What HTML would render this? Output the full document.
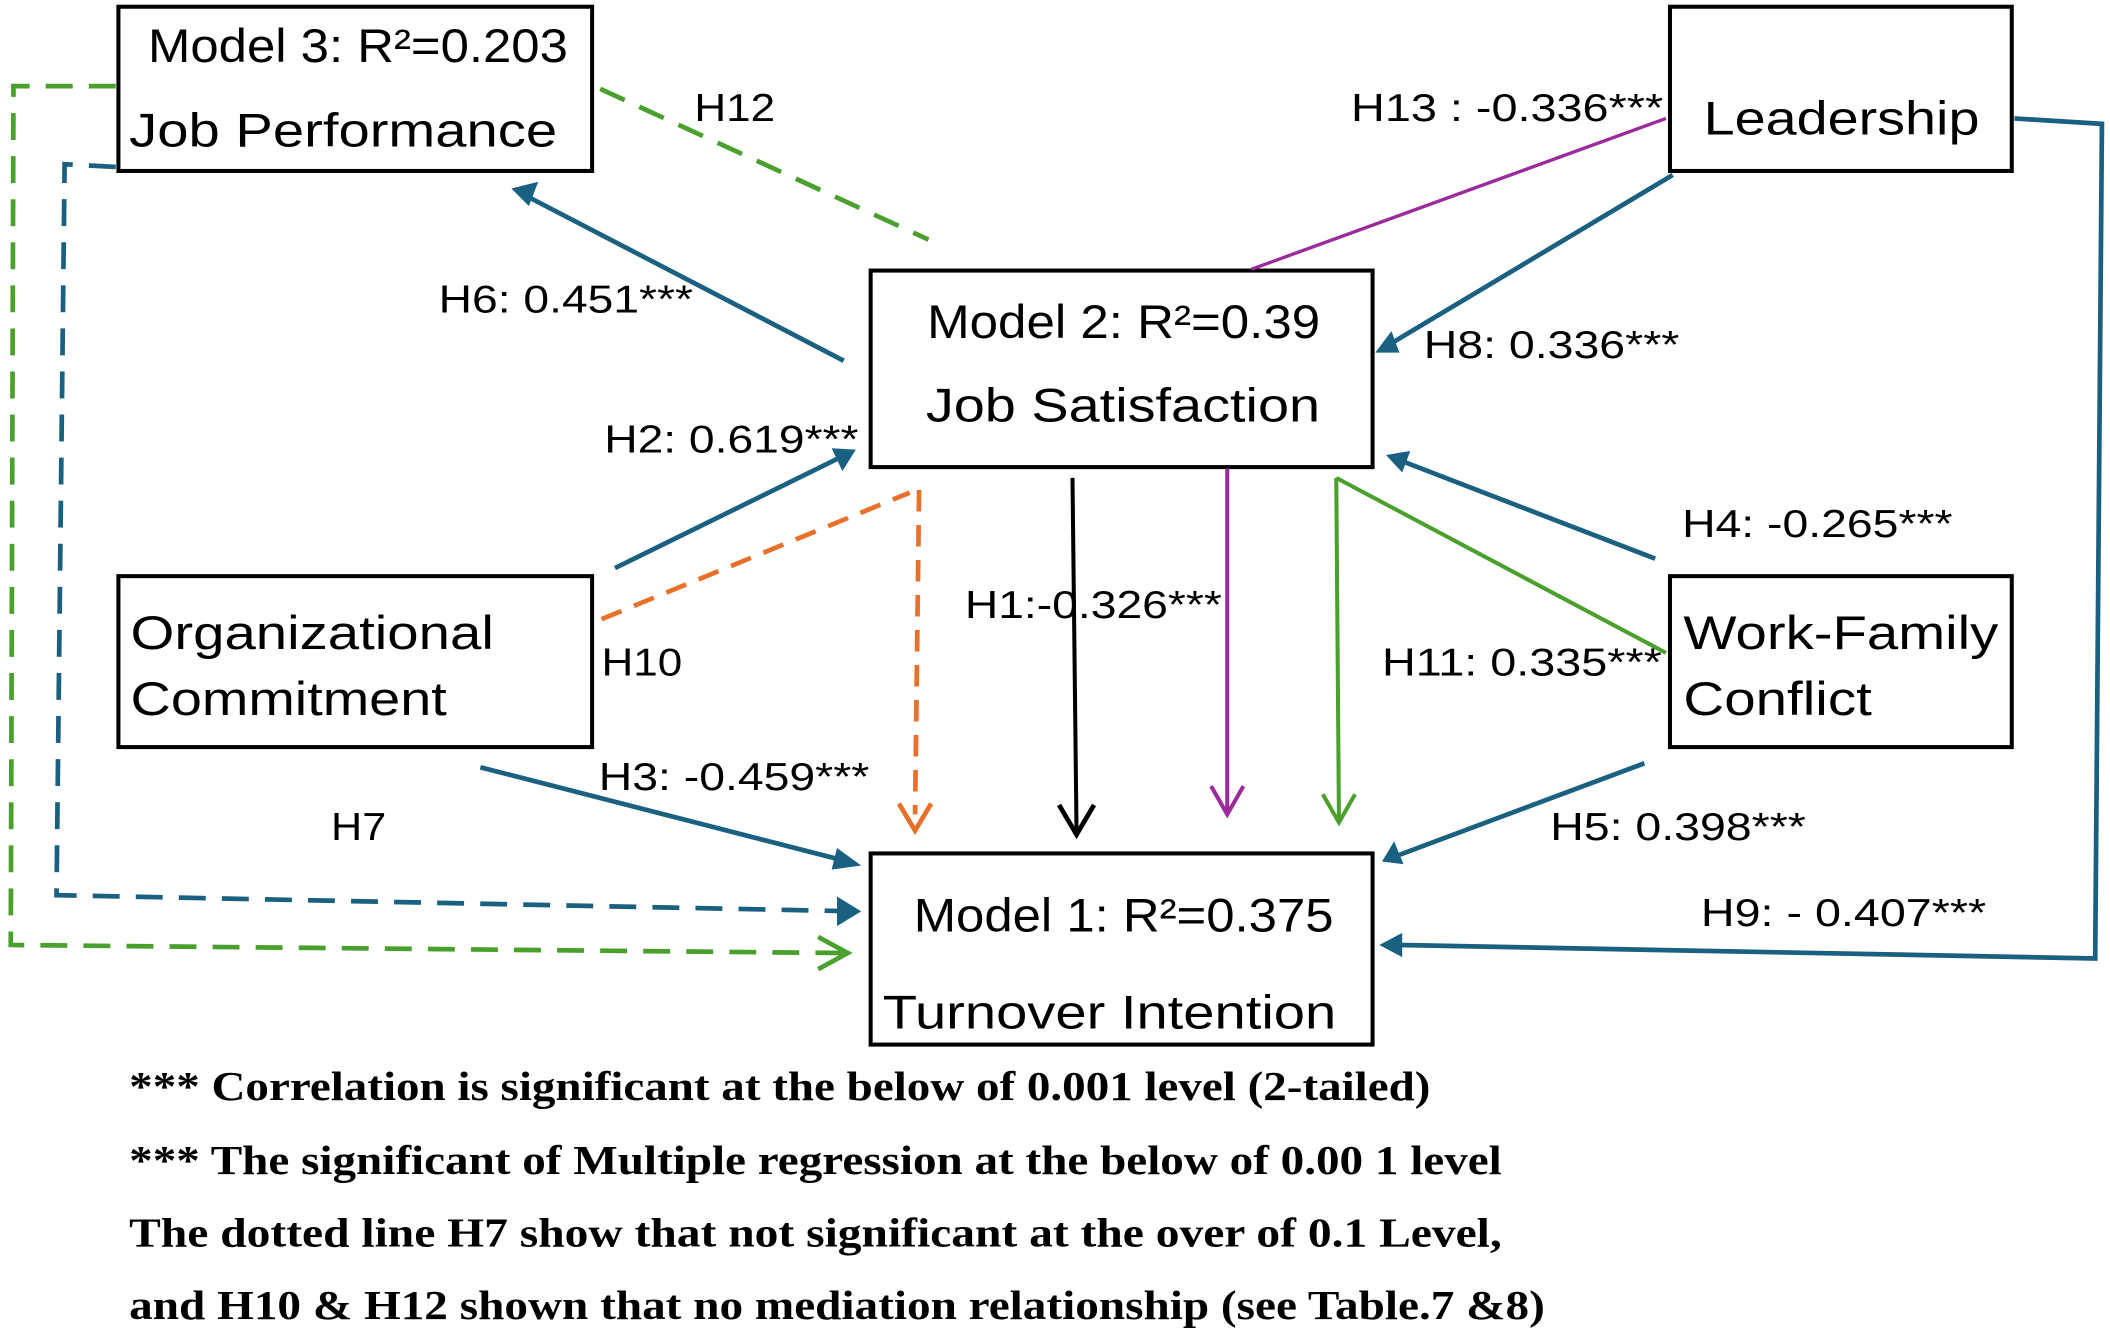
<!DOCTYPE html>
<html><head><meta charset="utf-8"><style>
html,body{margin:0;padding:0;background:#fff;}
svg{display:block;}
text{font-family:"Liberation Sans",sans-serif;fill:#000;}
.f{font-family:"Liberation Serif",serif;font-weight:bold;font-size:31px;}
</style></head><body>
<svg width="2110" height="1334" viewBox="0 0 1568 991" preserveAspectRatio="none" xmlns="http://www.w3.org/2000/svg">
<g fill="none" stroke="#000" stroke-width="3">
<rect x="88" y="5" width="352" height="122"/>
<rect x="1241" y="5" width="254" height="122"/>
<rect x="647" y="201" width="373" height="146"/>
<rect x="88" y="428" width="352" height="127"/>
<rect x="1241" y="428" width="254" height="127"/>
<rect x="647" y="634" width="373" height="142"/>
</g>
<g fill="none" stroke="#4aa02c" stroke-width="3.5" stroke-dasharray="20,12">
<line x1="446" y1="66" x2="690" y2="178"/>
<polyline points="86,64 10,64 8,702 628,708"/>
</g>
<path d="M608,696 L630,708 L608,720" fill="none" stroke="#4aa02c" stroke-width="3.5"/>
<polyline points="86,124 48,122 42,665 636,677" fill="none" stroke="#1a6080" stroke-width="3.5" stroke-dasharray="20,12"/>
<path d="M622,666 L640,677 L622,688 z" fill="#1a6080"/>
<g stroke="#1a6080" stroke-width="3.5" fill="none">
<line x1="627" y1="268" x2="392" y2="146"/>
<line x1="1243" y1="130" x2="1034" y2="255"/>
<polyline points="1497,88 1562,92 1557,712 1040,702"/>
<line x1="457" y1="422" x2="622" y2="341"/>
<line x1="1230" y1="415" x2="1043" y2="343"/>
<line x1="357" y1="570" x2="626" y2="639"/>
<line x1="1222" y1="567" x2="1040" y2="635"/>
</g>
<g fill="#1a6080">
<path d="M380,140 L400,135 L393,153 z"/>
<path d="M1022,262 L1034,246 L1040,262 z"/>
<path d="M1025,702 L1042,693 L1042,711 z"/>
<path d="M636,334 L618,333 L626,350 z"/>
<path d="M1030,338 L1048,335 L1042,351 z"/>
<path d="M640,643 L622,630 L618,646 z"/>
<path d="M1027,640 L1036,625 L1043,642 z"/>
</g>
<line x1="1238" y1="88" x2="930" y2="200" stroke="#9b2a9b" stroke-width="2.5"/>
<line x1="912" y1="348" x2="912" y2="604" stroke="#9b2a9b" stroke-width="3"/>
<path d="M900,584 L912,605 L924,584" fill="none" stroke="#9b2a9b" stroke-width="3"/>
<g stroke="#e8702a" stroke-width="3.5" fill="none" stroke-dasharray="16,10">
<line x1="447" y1="460" x2="676" y2="366"/>
<line x1="683" y1="364" x2="680" y2="605"/>
</g>
<path d="M668,597 L680,617 L692,597" fill="none" stroke="#e8702a" stroke-width="3.5"/>
<line x1="797" y1="355" x2="800" y2="618" stroke="#000" stroke-width="3"/>
<path d="M787,598 L800,620 L813,598" fill="none" stroke="#000" stroke-width="3.5"/>
<g stroke="#4aa02c" stroke-width="3" fill="none">
<line x1="993" y1="355" x2="995" y2="608"/>
<line x1="993" y1="355" x2="1238" y2="485"/>
<path d="M983,590 L995,611 L1007,590"/>
</g>
<g font-size="35" lengthAdjust="spacingAndGlyphs">
<text x="110" y="46" textLength="312" lengthAdjust="spacingAndGlyphs">Model 3: R²=0.203</text>
<text x="96" y="109" textLength="318" lengthAdjust="spacingAndGlyphs">Job Performance</text>
<text x="1266" y="100" textLength="205" lengthAdjust="spacingAndGlyphs">Leadership</text>
<text x="689" y="251" textLength="292" lengthAdjust="spacingAndGlyphs">Model 2: R²=0.39</text>
<text x="688" y="313" textLength="293" lengthAdjust="spacingAndGlyphs">Job Satisfaction</text>
<text x="97" y="482" textLength="270" lengthAdjust="spacingAndGlyphs">Organizational</text>
<text x="97" y="531" textLength="235" lengthAdjust="spacingAndGlyphs">Commitment</text>
<text x="1251" y="482" textLength="234" lengthAdjust="spacingAndGlyphs">Work-Family</text>
<text x="1251" y="531" textLength="140" lengthAdjust="spacingAndGlyphs">Conflict</text>
<text x="679" y="692" textLength="312" lengthAdjust="spacingAndGlyphs">Model 1: R²=0.375</text>
<text x="656" y="764" textLength="337" lengthAdjust="spacingAndGlyphs">Turnover Intention</text>
</g>
<g font-size="29">
<text x="516" y="90" textLength="60" lengthAdjust="spacingAndGlyphs">H12</text>
<text x="1004" y="90" textLength="232" lengthAdjust="spacingAndGlyphs">H13 : -0.336***</text>
<text x="326" y="232" textLength="189" lengthAdjust="spacingAndGlyphs">H6: 0.451***</text>
<text x="1058" y="266" textLength="190" lengthAdjust="spacingAndGlyphs">H8: 0.336***</text>
<text x="449" y="336" textLength="189" lengthAdjust="spacingAndGlyphs">H2: 0.619***</text>
<text x="1250" y="399" textLength="201" lengthAdjust="spacingAndGlyphs">H4: -0.265***</text>
<text x="717" y="459" textLength="191" lengthAdjust="spacingAndGlyphs">H1:-0.326***</text>
<text x="447" y="502" textLength="60" lengthAdjust="spacingAndGlyphs">H10</text>
<text x="1027" y="502" textLength="208" lengthAdjust="spacingAndGlyphs">H11: 0.335***</text>
<text x="445" y="587" textLength="201" lengthAdjust="spacingAndGlyphs">H3: -0.459***</text>
<text x="246" y="624" textLength="41" lengthAdjust="spacingAndGlyphs">H7</text>
<text x="1152" y="624" textLength="190" lengthAdjust="spacingAndGlyphs">H5: 0.398***</text>
<text x="1264" y="688" textLength="212" lengthAdjust="spacingAndGlyphs">H9: - 0.407***</text>
</g>
<text class="f" x="96" y="817" textLength="967" lengthAdjust="spacingAndGlyphs">*** Correlation is significant at the below of 0.001 level (2-tailed)</text>
<text class="f" x="96" y="872" textLength="1020" lengthAdjust="spacingAndGlyphs">*** The significant of Multiple regression at the below of 0.00 1 level</text>
<text class="f" x="96" y="926" textLength="1020" lengthAdjust="spacingAndGlyphs">The dotted line H7 show that not significant at the over of 0.1  Level,</text>
<text class="f" x="96" y="980" textLength="1052" lengthAdjust="spacingAndGlyphs">and H10 &amp; H12 shown that no mediation relationship (see Table.7 &amp;8)</text>
</svg>
</body></html>
